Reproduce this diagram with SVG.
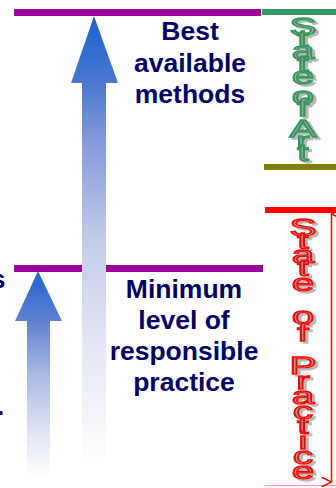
<svg xmlns="http://www.w3.org/2000/svg" width="336" height="488" viewBox="0 0 336 488">
<style>
.lbl{font-family:"Liberation Sans",Arial,sans-serif;font-weight:bold;font-size:26.5px;fill:#000066;text-anchor:middle}
.frag{font-family:"Liberation Sans",Arial,sans-serif;font-weight:bold;font-size:26px;fill:#000066}
.wa{font-family:"Liberation Sans",Arial,sans-serif;font-size:24px;text-anchor:middle;fill:#a0a0a0;stroke-width:1.3}
.art{stroke:#2b9a5a}
.prac{stroke:#ff0000}
.purple{fill:#990099}
</style>
<defs>
<linearGradient id="gBig" gradientUnits="userSpaceOnUse" x1="0" y1="16" x2="0" y2="468">
<stop offset="0" stop-color="#1c62cf"/>
<stop offset="0.15" stop-color="#4a78d0"/>
<stop offset="0.27" stop-color="#8299d8"/>
<stop offset="0.5" stop-color="#c3cce9"/>
<stop offset="0.75" stop-color="#e6e9f5"/>
<stop offset="1" stop-color="#ffffff"/>
</linearGradient>
<linearGradient id="gSmall" gradientUnits="userSpaceOnUse" x1="0" y1="271" x2="0" y2="478">
<stop offset="0" stop-color="#1e63cf"/>
<stop offset="0.25" stop-color="#6282d1"/>
<stop offset="0.5" stop-color="#abb9e3"/>
<stop offset="0.78" stop-color="#e0e5f3"/>
<stop offset="1" stop-color="#ffffff"/>
</linearGradient>
<filter id="shadow" x="-50%" y="-50%" width="200%" height="200%">
<feOffset in="SourceAlpha" dx="3" dy="2" result="off"/>
<feFlood flood-color="#b8b8b8"/>
<feComposite in2="off" operator="in" result="sh"/>
<feMerge><feMergeNode in="sh"/><feMergeNode in="SourceGraphic"/></feMerge>
</filter>
<marker id="openHead" viewBox="0 0 10 12" refX="5" refY="1" markerWidth="10" markerHeight="12" markerUnits="userSpaceOnUse" orient="auto-start-reverse">
<path d="M0,11 L5,1 L10,11" fill="none" stroke="#ff0000" stroke-width="1.5"/>
</marker>
</defs>
<rect width="336" height="488" fill="#ffffff"/>

<g id="bars">
<rect class="purple" x="14" y="9" width="247" height="7"/>
<rect x="262" y="9" width="74" height="6" fill="#339966"/>
<rect x="264" y="164" width="72" height="6" fill="#808000"/>
<rect class="purple" x="14" y="265" width="249" height="7"/>
<rect x="265" y="207" width="71" height="6" fill="#ff0000"/>
<line x1="265" y1="485.5" x2="336" y2="485.5" stroke="#ff9a9a" stroke-width="1"/>
</g>

<g id="arrow-best">
<polygon points="94,16 118,83 106,83 106,468 82,468 82,83 71,83" fill="url(#gBig)"/>
</g>
<g id="arrow-minimum">
<polygon points="38,271 62,321 50,321 50,478 27,478 27,321 15,321" fill="url(#gSmall)"/>
</g>

<g id="label-best">
<text class="lbl" x="190" y="40">Best</text>
<text class="lbl" x="190" y="72">available</text>
<text class="lbl" x="190" y="103">methods</text>
</g>

<g id="label-minimum">
<text class="lbl" x="184" y="298">Minimum</text>
<text class="lbl" x="184" y="329">level of</text>
<text class="lbl" x="184" y="360">responsible</text>
<text class="lbl" x="184" y="391">practice</text>
</g>

<g id="left-fragments">
<text class="frag" x="-9" y="288">s</text>
<text class="frag" x="-3" y="415">.</text>
</g>

<g id="state-of-art" filter="url(#shadow)">
<g transform="translate(303,0) scale(1.7,1)">
<text class="wa art" x="0" y="35">S</text>
<text class="wa art" x="0" y="47">t</text>
<text class="wa art" x="0" y="59">a</text>
<text class="wa art" x="0" y="72">t</text>
<text class="wa art" x="0" y="84">e</text>
<text class="wa art" x="0" y="104">o</text>
<text class="wa art" x="0" y="116">f</text>
<text class="wa art" x="0" y="137">A</text>
<text class="wa art" x="0" y="149">r</text>
<text class="wa art" x="0" y="161">t</text>
</g>
</g>

<g id="state-of-practice" filter="url(#shadow)">
<g transform="translate(303,0) scale(1.7,1)">
<text class="wa prac" x="0" y="236">S</text>
<text class="wa prac" x="0" y="249">t</text>
<text class="wa prac" x="0" y="263">a</text>
<text class="wa prac" x="0" y="276">t</text>
<text class="wa prac" x="0" y="291">e</text>
<text class="wa prac" x="0" y="324">o</text>
<text class="wa prac" x="0" y="341">f</text>
<text class="wa prac" x="0" y="374">P</text>
<text class="wa prac" x="0" y="389">r</text>
<text class="wa prac" x="0" y="404">a</text>
<text class="wa prac" x="0" y="419">c</text>
<text class="wa prac" x="0" y="434">t</text>
<text class="wa prac" x="0" y="449">i</text>
<text class="wa prac" x="0" y="464">c</text>
<text class="wa prac" x="0" y="479">e</text>
</g>
</g>

<g id="connectors">
<line x1="331.5" y1="214" x2="331.5" y2="482" stroke="#ff0000" stroke-width="1.5" marker-start="url(#openHead)" marker-end="url(#openHead)"/>
</g>
</svg>
